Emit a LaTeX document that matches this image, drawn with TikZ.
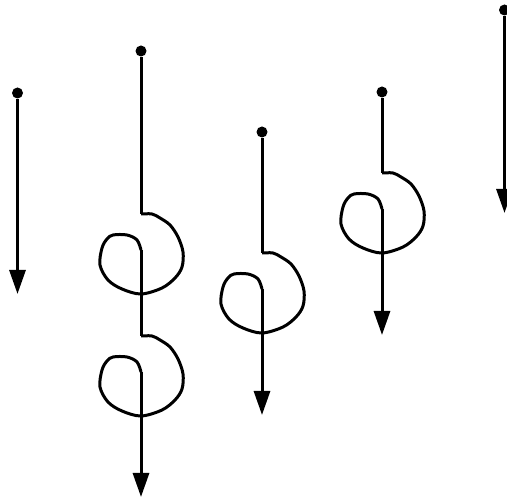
\documentclass[tikz,border=0pt]{standalone}
\usetikzlibrary{arrows.meta}

\tikzset{
  curl/.pic={
    \draw[wire] plot[smooth, tension=0.55] coordinates {(0,0) (11,0) (19,4) (29,11) (37,23) (42,38) (41,53) (34,64) (21,74) (0,80) (-19,75) (-33,66) (-41,51) (-39,34) (-34,25) (-28,21) (-14,21) (-4,26) (0,36)};
    \coordinate (-out) at (0,36);
  }
}

\begin{document}
\begin{tikzpicture}[>={Triangle[length=24pt,width=16pt]}, x=1pt, y=-1pt,
  wire/.style={line width=3pt, line join=round},
  dot/.style={circle, fill, inner sep=0pt, minimum size=11pt}]
\useasboundingbox (0,0) rectangle (507,502);
% start points
\node[dot] (s1) at (17.5,93) {};
\node[dot] (s2) at (141,51) {};
\node[dot] (s3) at (262,132) {};
\node[dot] (s4) at (382,92) {};
\node[dot] (s5) at (504.5,10) {};
% curl corners and end points
\coordinate (k2a) at (141,214);
\coordinate (k2b) at (141,336);
\coordinate (k3) at (262,253);
\coordinate (k4) at (382,173);
\coordinate (e1) at (17.5,294);
\coordinate (e2) at (141,497);
\coordinate (e3) at (262,415);
\coordinate (e4) at (382,335);
\coordinate (e5) at (504.5,213);
% plain one
\draw[wire, ->] (s1) -- (e1);
% two curls
\draw[wire] (s2) -- (k2a) pic (c2a) {curl};
\draw[wire] (c2a-out) -- (k2b) pic (c2b) {curl};
\draw[wire, ->] (c2b-out) -- (e2);
% one curl
\draw[wire] (s3) -- (k3) pic (c3) {curl};
\draw[wire, ->] (c3-out) -- (e3);
\draw[wire] (s4) -- (k4) pic (c4) {curl};
\draw[wire, ->] (c4-out) -- (e4);
% plain one at the edge
\draw[wire, ->] (s5) -- (e5);
\end{tikzpicture}
\end{document}
